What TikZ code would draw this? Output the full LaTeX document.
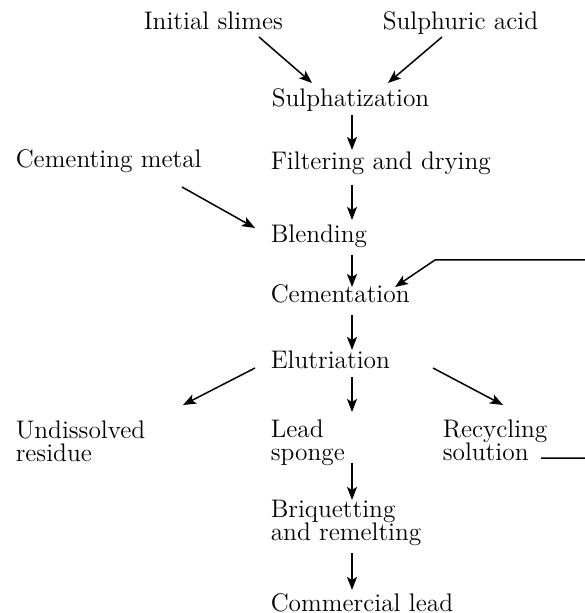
\documentclass[tikz,border=0pt]{standalone}
\usepackage{tikz}
\usetikzlibrary{arrows.meta}
\tikzset{>={Stealth[length=6.5pt, width=5pt, inset=1.5pt]}}
\tikzset{stage/.style={anchor=base west, inner sep=0pt, align=left}}

\begin{document}
\begin{tikzpicture}[x=0.5pt, y=-0.5pt, line width=0.75pt, font=\fontsize{12.7}{11.5}\selectfont]

	\useasboundingbox (0,0) rectangle (584,613);

	\node[stage] (slimes) at (143,30) {Initial slimes};
	\node[stage] (acid) at (382,30) {Sulphuric acid};
	\node[stage] (sulph) at (271,107) {Sulphatization};
	\node[stage] (metal) at (15,168) {Cementing metal};
	\node[stage] (filter) at (270,170) {Filtering and drying};
	\node[stage] (blend) at (270,243) {Blending};
	\node[stage] (cement) at (270,303) {Cementation};
	\node[stage] (elut) at (270,368) {Elutriation};
	% two-line nodes sit on their last line
	\node[stage] (residue) at (15,461) {Undissolved\\residue};
	\node[stage] (sponge) at (270,460) {Lead\\sponge};
	\node[stage] (recyc) at (442,460) {Recycling\\solution};
	\node[stage] (briq) at (270,540) {Briquetting\\and remelting};
	\node[stage] (lead) at (270,611) {Commercial lead};

	\coordinate (loopedge) at (592,260);
	\coordinate (loopbend) at (435,260);

	\draw[->] ([shift={(116,7)}]slimes.base west) -- ([shift={(41,-24)}]sulph.base west);
	\draw[->] ([shift={(60,7)}]acid.base west) -- ([shift={(117,-24)}]sulph.base west);
	\draw[->] ([shift={(81,8)}]sulph.base west) -- ([shift={(82,-20)}]filter.base west);
	\draw[->] ([shift={(167,19)}]metal.base west) -- ([shift={(-15,-15)}]blend.base west);
	\draw[->] ([shift={(82,15)}]filter.base west) -- ([shift={(82,-23)}]blend.base west);
	\draw[->] ([shift={(82,12)}]blend.base west) -- ([shift={(82,-16)}]cement.base west);
	\draw[->] ([shift={(82,12)}]cement.base west) -- ([shift={(82,-18)}]elut.base west);
	\draw[->] ([shift={(-15,0)}]elut.base west) -- ([shift={(168,-56)}]residue.base west);
	\draw[->] ([shift={(82,9)}]elut.base west) -- ([shift={(82,-48)}]sponge.base west);
	\draw[->] ([shift={(163,0)}]elut.base west) -- ([shift={(61,-55)}]recyc.base west);
	\draw[->] ([shift={(82,3)}]sponge.base west) -- ([shift={(82,-40)}]briq.base west);
	\draw[->] ([shift={(82,13)}]briq.base west) -- ([shift={(82,-21)}]lead.base west);

	% recycling loop back to cementation
	\draw[->] ([shift={(99,-2)}]recyc.base west) -| (loopedge) -- (loopbend) -- ([shift={(125,-16)}]cement.base west);
\end{tikzpicture}
\end{document}
